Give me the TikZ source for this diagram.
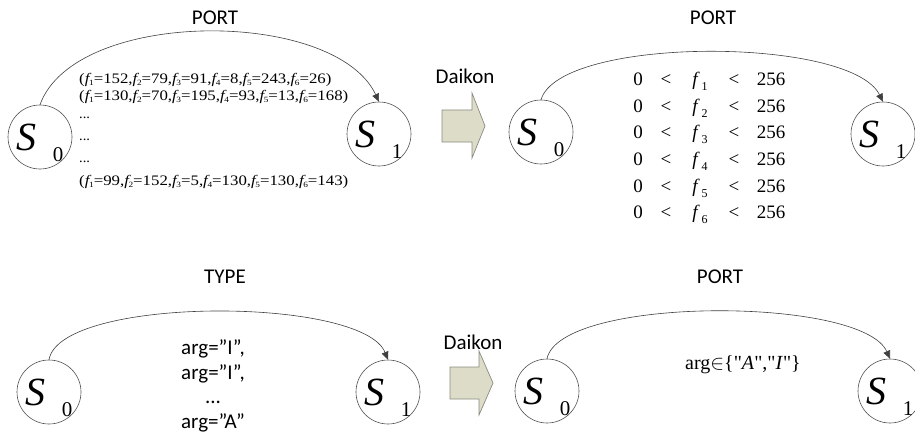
\documentclass[tikz,border=0pt]{standalone}
\usepackage{fontspec}
\setmainfont{Liberation Serif}
\newfontfamily\labelfont{Carlito}
\usetikzlibrary{arrows.meta}
\definecolor{arrowfill}{HTML}{DCDCC8}
\definecolor{arrowedge}{HTML}{8A8A80}
\definecolor{ringcol}{HTML}{505050}
\newcommand{\stname}[1]{{\fontsize{40}{40}\selectfont\itshape S}\hspace{16pt}\raisebox{-11pt}{\fontsize{21}{21}\selectfont #1}}
\newcommand{\fsub}[1]{{\itshape f}\kern-0.3pt\raisebox{-2pt}{\fontsize{8}{8}\selectfont #1}}
\newcommand{\fbig}[1]{{\itshape f}\hspace{4pt}\raisebox{-5pt}{\fontsize{12}{12}\selectfont #1}}
\newcommand{\tuple}[1]{\scalebox{1.16}[1]{#1}}
\begin{document}
\begin{tikzpicture}[x=1pt,y=-1pt,
  state/.style={circle,draw=ringcol,line width=0.6pt,minimum size=64pt,inner sep=0pt,text depth=0pt},
  trans/.style={draw=black!75,line width=0.6pt,-{Triangle[length=8pt,width=7pt]}},
  lbl/.style={font=\labelfont\fontsize{21}{21}\selectfont},
  tup/.style={anchor=west,inner sep=0pt,font=\fontsize{14.5}{14.5}\selectfont},
  blockarrow/.style={fill=arrowfill,draw=arrowedge,line width=0.7pt,line join=miter}]
\useasboundingbox (0,0) rectangle (915,433);

% --- top left: observed traces on the PORT transition
\node[state] (a0) at (40,137) {\stname{0}};
\node[state] (a1) at (379,134) {\stname{1}};
\draw[trans] (a0.north) .. controls (75,8) and (335,8) .. (a1.north);
\node[lbl] (aport) at (215,18) {PORT};
\node[tup] (t1) at (79,80)  {\tuple{(\fsub{1}=152,\fsub{2}=79,\fsub{3}=91,\fsub{4}=8,\fsub{5}=243,\fsub{6}=26)}};
\node[tup] (t2) at (79,97)  {\tuple{(\fsub{1}=130,\fsub{2}=70,\fsub{3}=195,\fsub{4}=93,\fsub{5}=13,\fsub{6}=168)}};
\node[tup] (t3) at (79,118) {...};
\node[tup] (t4) at (79,140) {...};
\node[tup] (t5) at (79,162) {...};
\node[tup] (t6) at (79,182) {\tuple{(\fsub{1}=99,\fsub{2}=152,\fsub{3}=5,\fsub{4}=130,\fsub{5}=130,\fsub{6}=143)}};

% --- Daikon step (top)
\node[lbl] (d1) at (465,76) {Daikon};
\draw[blockarrow] (442,110) -- (472,110) -- (472,93) -- (485,126) -- (472,158) -- (472,142) -- (442,142) -- cycle;

% --- top right: inferred ranges
\node[state] (b0) at (541,132) {\stname{0}};
\node[state] (b1) at (883,134) {\stname{1}};
\draw[trans] (b0.north) .. controls (560,36) and (850,36) .. (b1.north);
\node[lbl] (bport) at (713,18) {PORT};
\node[inner sep=0pt,align=left,font=\fontsize{19}{26.6}\selectfont] (rng) at (709,148)
  {\makebox[28pt]{0}\makebox[28pt]{<}\makebox[40pt]{\fbig{1}}\makebox[28pt]{<}\makebox[46pt]{256}\\
   \makebox[28pt]{0}\makebox[28pt]{<}\makebox[40pt]{\fbig{2}}\makebox[28pt]{<}\makebox[46pt]{256}\\
   \makebox[28pt]{0}\makebox[28pt]{<}\makebox[40pt]{\fbig{3}}\makebox[28pt]{<}\makebox[46pt]{256}\\
   \makebox[28pt]{0}\makebox[28pt]{<}\makebox[40pt]{\fbig{4}}\makebox[28pt]{<}\makebox[46pt]{256}\\
   \makebox[28pt]{0}\makebox[28pt]{<}\makebox[40pt]{\fbig{5}}\makebox[28pt]{<}\makebox[46pt]{256}\\
   \makebox[28pt]{0}\makebox[28pt]{<}\makebox[40pt]{\fbig{6}}\makebox[28pt]{<}\makebox[46pt]{256}};

% --- bottom left: observed argument values on the TYPE transition
\node[state] (c0) at (49,392) {\stname{0}};
\node[state] (c1) at (388,392) {\stname{1}};
\draw[trans] (c0.north) .. controls (60,296) and (362,296) .. (c1.north);
\node[lbl] (ctype) at (225,277) {TYPE};
\node[lbl,align=center,font=\labelfont\fontsize{21}{24.7}\selectfont] (args) at (213,386)
  {arg=”I”,\\ arg=”I”,\\ ...\\ arg=”A”};

% --- Daikon step (bottom)
\node[lbl] (d2) at (473,342) {Daikon};
\draw[blockarrow] (450,367) -- (479,367) -- (479,351) -- (493,383) -- (479,415) -- (479,399) -- (450,399) -- cycle;

% --- bottom right: inferred value set
\node[state] (e0) at (547,391) {\stname{0}};
\node[state] (e1) at (890,391) {\stname{1}};
\draw[trans] (e0.north) .. controls (560,296) and (862,296) .. (e1.north);
\node[lbl] (eport) at (720,277) {PORT};
\node[font=\fontsize{20}{20}\selectfont] (set) at (743,365) {arg$\in$\{\textquotedbl\textit{A}\textquotedbl,\textquotedbl\textit{I}\textquotedbl\}};
\end{tikzpicture}
\end{document}
